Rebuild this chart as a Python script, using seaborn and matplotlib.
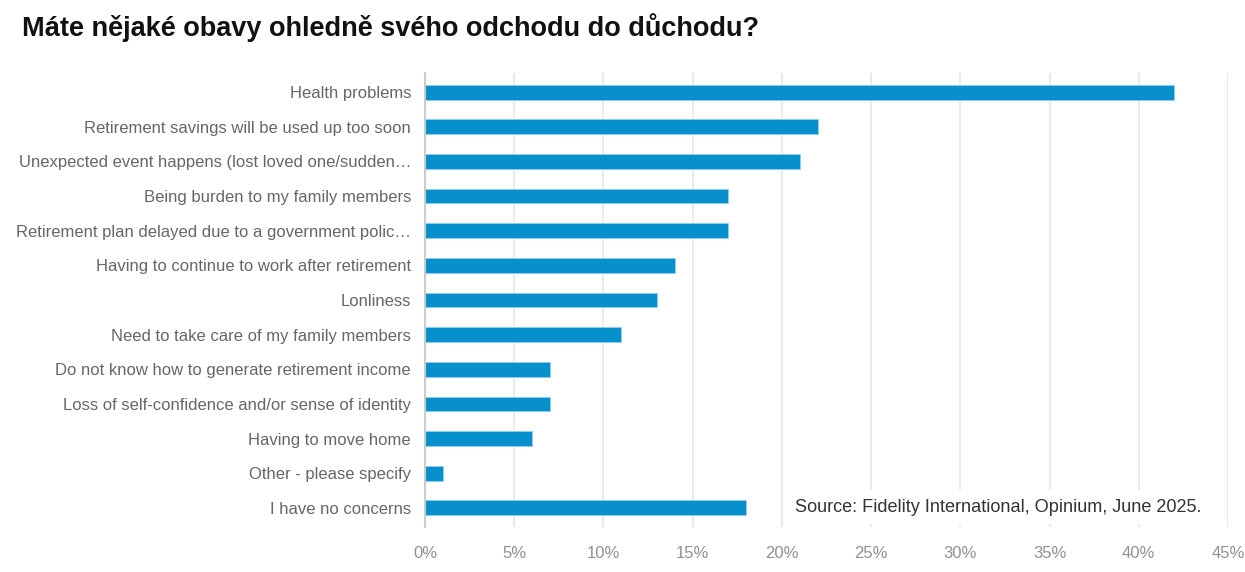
import matplotlib
matplotlib.use("Agg")
import matplotlib.pyplot as plt
import seaborn as sns
import pandas as pd
from matplotlib.ticker import FuncFormatter

categories = [
    "Health problems",
    "Retirement savings will be used up too soon",
    "Unexpected event happens (lost loved one/sudden\u2026",
    "Being burden to my family members",
    "Retirement plan delayed due to a government polic\u2026",
    "Having to continue to work after retirement",
    "Lonliness",
    "Need to take care of my family members",
    "Do not know how to generate retirement income",
    "Loss of self-confidence and/or sense of identity",
    "Having to move home",
    "Other - please specify",
    "I have no concerns",
]
values = [42, 22, 21, 17, 17, 14, 13, 11, 7, 7, 6, 1, 18]
x_ticks = [0, 5, 10, 15, 20, 25, 30, 35, 40, 45]

title = "Máte nějaké obavy ohledně svého odchodu do důchodu?"
source = "Source: Fidelity International, Opinium, June 2025."

sns.set_theme(style="white")
plt.rcParams['font.family'] = ['Liberation Sans', 'DejaVu Sans']

df = pd.DataFrame({"cat": categories, "val": values})

fig = plt.figure(figsize=(12.45, 5.72), dpi=100)
ax = fig.add_axes([425/1245, 1-527/572, (1228-425)/1245, (527-73)/572])

sns.barplot(data=df, y="cat", x="val", orient="h", color="#0790cb",
            saturation=1, width=0.43, ax=ax, edgecolor="#8fd0ee", linewidth=0.6)

ax.set_xlim(0, 45)
ax.set_ylim(len(categories) - 0.45, -0.55)
ax.set_xticks(x_ticks)
ax.xaxis.set_major_formatter(FuncFormatter(lambda v, p: f"{int(v)}%"))
ax.set_xlabel("")
ax.set_ylabel("")
ax.grid(axis="x", color="#e6e6e6", linewidth=1.2)
ax.set_axisbelow(True)
for s in ["top", "right", "bottom"]:
    ax.spines[s].set_visible(False)
ax.spines["left"].set_color("#cccccc")
ax.spines["left"].set_linewidth(1.5)
ax.tick_params(axis="y", length=0, pad=10, labelsize=12, labelcolor="#666666")
ax.tick_params(axis="x", length=0, pad=14, labelsize=12, labelcolor="#909090")

fig.text(22/1245, 1-28/572, title, fontsize=19.5, fontweight="bold", color="#111111",
         va="center", ha="left")

ax.text((795-425)/803, 1-(507-73)/454, source, transform=ax.transAxes, fontsize=13.1,
        color="#333333", va="center", ha="left",
        bbox=dict(facecolor="white", edgecolor="none", pad=6))

fig.savefig("out.png", dpi=100, facecolor="white")
